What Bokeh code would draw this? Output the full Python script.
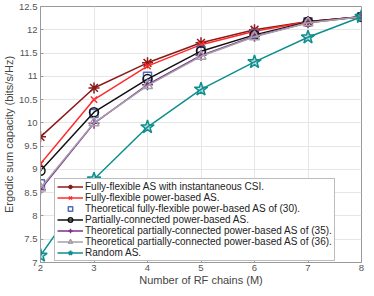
from bokeh.plotting import figure
from bokeh.models import FixedTicker, CustomJSTickFormatter, Legend
from bokeh.embed import file_html
from bokeh.resources import INLINE

M = [2, 3, 4, 5, 6, 7, 8]
ff_inst = [9.70, 10.75, 11.29, 11.72, 12.00, 12.18, 12.28]
ff_power = [9.12, 10.50, 11.22, 11.68, 11.97, 12.17, 12.28]
th_ff = [8.69, 10.20, 11.00, 11.56, 11.91, 12.17, 12.28]
pc_power = [8.97, 10.23, 10.94, 11.54, 11.89, 12.17, 12.28]
th_pc35 = [8.57, 9.99, 10.82, 11.45, 11.86, 12.15, 12.28]
th_pc36 = [8.60, 10.00, 10.80, 11.43, 11.85, 12.15, 12.28]
random_as = [7.15, 8.79, 9.91, 10.72, 11.31, 11.84, 12.28]

labels = [
    "Fully-flexible AS with instantaneous CSI.",
    "Fully-flexible power-based AS.",
    "Theoretical fully-flexible power-based AS of (30).",
    "Partially-connected power-based AS.",
    "Theoretical partially-connected power-based AS of (35).",
    "Theoretical partially-connected power-based AS of (36).",
    "Random AS.",
]
y_ticks = [7, 7.5, 8, 8.5, 9, 9.5, 10, 10.5, 11, 11.5, 12, 12.5]
x_ticks = [2, 3, 4, 5, 6, 7, 8]

FONT = "Liberation Sans"

p = figure(width=366, height=288, x_range=(2, 8), y_range=(7, 12.5),
           output_backend="svg", toolbar_location=None,
           min_border_left=0, min_border_right=5, min_border_top=6, min_border_bottom=0)
p.background_fill_color = "white"
p.outline_line_color = "#9a9a9a"
p.outline_line_width = 1

for ax in (p.xaxis[0], p.yaxis[0]):
    ax.axis_line_color = "#9a9a9a"
    ax.major_tick_line_color = "#9a9a9a"
    ax.major_tick_in = 3
    ax.major_tick_out = 0
    ax.minor_tick_line_color = None
    ax.major_label_text_font = FONT
    ax.major_label_text_font_size = "9.5px"
    ax.major_label_text_color = "#555555"
    ax.axis_label_text_font = FONT
    ax.axis_label_text_font_size = "11px"
    ax.axis_label_text_font_style = "normal"
    ax.axis_label_text_color = "#444444"

p.xaxis.ticker = FixedTicker(ticks=x_ticks)
p.yaxis.ticker = FixedTicker(ticks=y_ticks)
p.yaxis.formatter = CustomJSTickFormatter(code="return tick.toString();")
p.xaxis.axis_label = "Number of RF chains (M)"
p.yaxis.axis_label = "Ergodic sum capacity (bits/s/Hz)"
p.xaxis.major_label_standoff = 2
p.yaxis.major_label_standoff = 3
p.xaxis.axis_label_standoff = 0
p.yaxis.axis_label_standoff = 1

p.grid.grid_line_color = "#e6e6e6"
p.grid.grid_line_width = 1

items = []

def add(ys, label, color, marker, size, line=True, fill=None, fill_alpha=0.0, lw=1.5):
    rs = []
    if line:
        rs.append(p.line(M, ys, line_color=color, line_width=lw))
    rs.append(p.scatter(M, ys, marker=marker, size=size, line_color=color,
                        line_width=1.5, fill_color=fill if fill else color,
                        fill_alpha=fill_alpha))
    items.append((label, rs))

add(ff_inst, labels[0], "#8c1a1a", "asterisk", 11)
add(ff_power, labels[1], "#ff2a2a", "x", 9)
add(th_ff, labels[2], "#4b6cc0", "square", 8, line=False)
add(pc_power, labels[3], "#111111", "circle", 9)
add(th_pc35, labels[4], "#7e2f8e", "cross", 11)
add(th_pc36, labels[5], "#a5a0a8", "triangle", 10)
add(random_as, labels[6], "#0e8f8f", "star", 14, fill="#0e8f8f", fill_alpha=0.25, lw=1.5)

legend = Legend(items=items, location=(14, 1))
legend.label_text_font = FONT
legend.label_text_font_size = "10px"
legend.label_text_color = "#222222"
legend.label_height = 8
legend.glyph_height = 11
legend.glyph_width = 26
legend.label_standoff = 2
legend.spacing = 0
legend.padding = 2
legend.margin = 0
legend.border_line_color = "#7a7a7a"
legend.border_line_width = 1
legend.background_fill_color = "white"
legend.background_fill_alpha = 1.0
p.add_layout(legend, "center")

open("out.html", "w").write(file_html(p, INLINE))
